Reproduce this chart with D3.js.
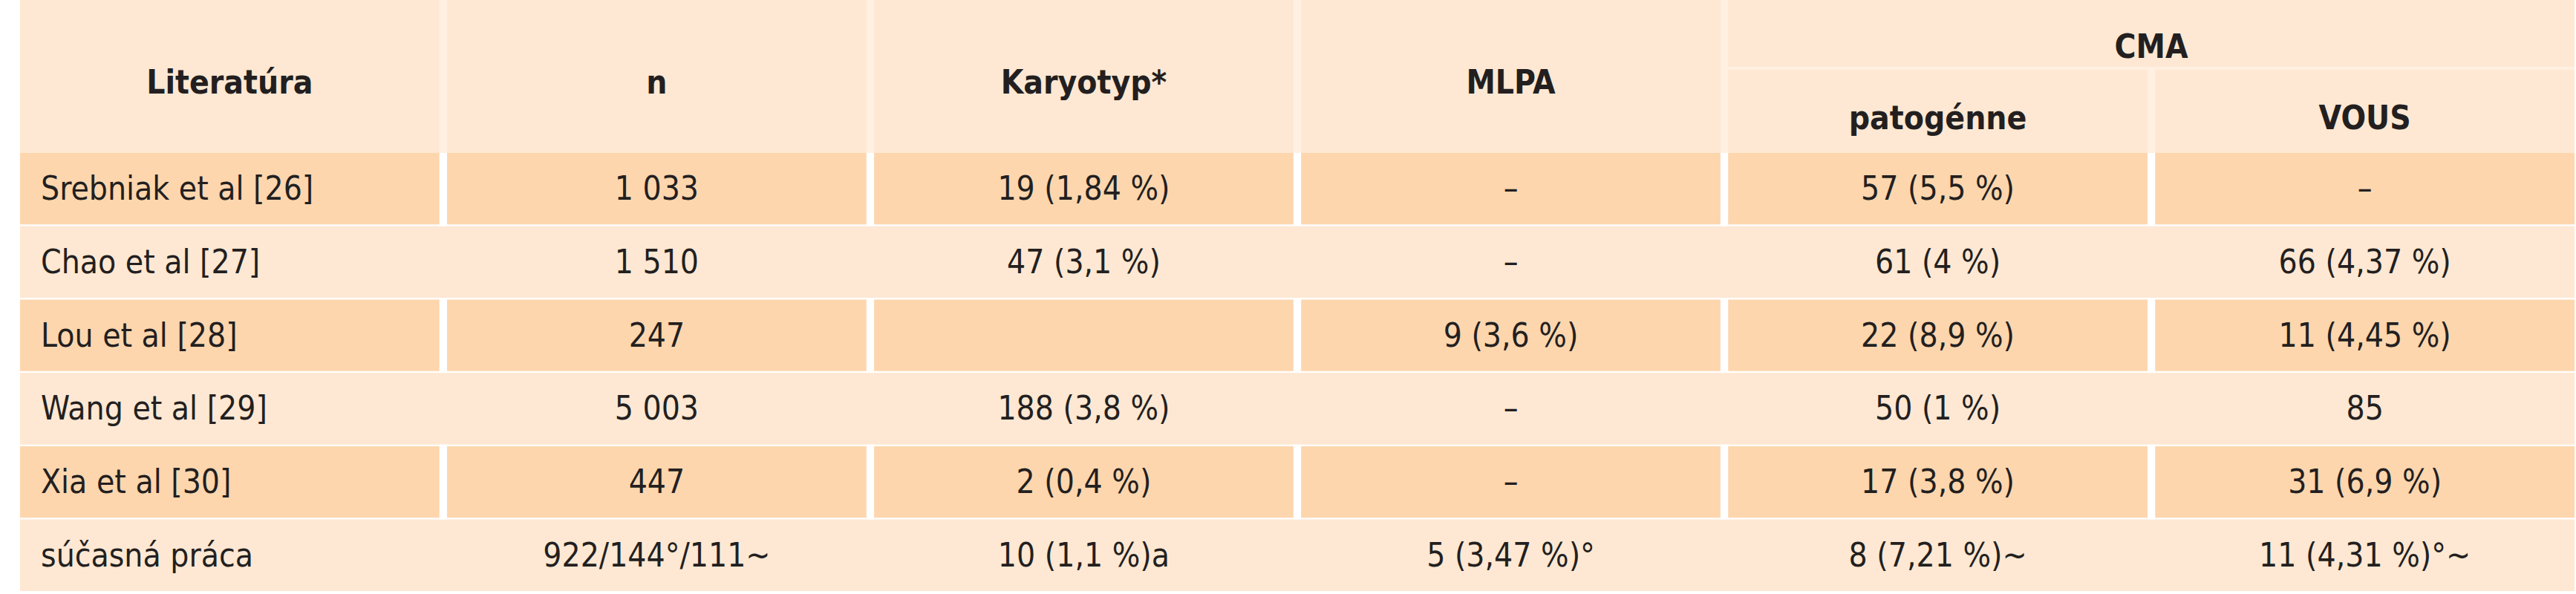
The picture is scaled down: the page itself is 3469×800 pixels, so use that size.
<!DOCTYPE html>
<html>
<head>
<meta charset="utf-8">
<script src="https://cdn.jsdelivr.net/npm/d3@7"></script>
<style>
  body { margin: 0; background: #fff; }
  text { font-family: "Liberation Sans Narrow", "DejaVu Sans Condensed", sans-serif; fill: #231f20; }
</style>
</head>
<body>
<svg id="chart"></svg>
<script>
// --- table data ---
const columns = ["Literatúra", "n", "Karyotyp*", "MLPA", "patogénne", "VOUS"];
const literature = ["Srebniak et al [26]", "Chao et al [27]", "Lou et al [28]", "Wang et al [29]", "Xia et al [30]", "súčasná práca"];
const nValues = ["1 033", "1 510", "247", "5 003", "447", "922/144°/111~"];
const karyotyp = ["19 (1,84 %)", "47 (3,1 %)", "", "188 (3,8 %)", "2 (0,4 %)", "10 (1,1 %)a"];
const mlpa = ["–", "–", "9 (3,6 %)", "–", "–", "5 (3,47 %)°"];
const patogenne = ["57 (5,5 %)", "61 (4 %)", "22 (8,9 %)", "50 (1 %)", "17 (3,8 %)", "8 (7,21 %)~"];
const vous = ["–", "66 (4,37 %)", "11 (4,45 %)", "85", "31 (6,9 %)", "11 (4,31 %)°~"];

const W = 3469, H = 800;
const headTop = 0, headBottom = 206;
const dark = "#fdd6ae", light = "#fee8d3", gapLight = "#fff0e2";

const svg = d3.select("#chart").attr("width", W).attr("height", H);

const x = d3.scaleBand().domain(d3.range(columns.length)).range([27, 3467]).paddingInner(0.018);
const y = d3.scaleBand().domain(d3.range(literature.length)).range([headBottom, 796]).paddingInner(0.025);

const rows = literature.map((d, i) => [d, nValues[i], karyotyp[i], mlpa[i], patogenne[i], vous[i]]);

// header background
svg.append("rect").attr("x", 27).attr("y", headTop).attr("width", 3440).attr("height", headBottom - headTop).attr("fill", light);
// faint header separators
[1, 2, 3, 4, 5].forEach(c => {
  svg.append("rect")
    .attr("x", x(c) - (x.step() - x.bandwidth())).attr("y", c === 5 ? 92 : 0)
    .attr("width", x.step() - x.bandwidth()).attr("height", c === 5 ? headBottom - 92 : headBottom)
    .attr("fill", gapLight);
});
svg.append("rect").attr("x", x(4)).attr("y", 90).attr("width", x(5) + x.bandwidth() - x(4)).attr("height", 4).attr("fill", gapLight);

// header text
const head = svg.append("g").attr("font-weight", "bold").attr("font-size", 44).attr("text-anchor", "middle");
[0, 1, 2, 3].forEach(c => {
  head.append("text").attr("x", x(c) + x.bandwidth() / 2).attr("y", 126).text(columns[c]);
});
head.append("text").attr("x", (x(4) + x(5) + x.bandwidth()) / 2).attr("y", 78).text("CMA");
[4, 5].forEach(c => {
  head.append("text").attr("x", x(c) + x.bandwidth() / 2).attr("y", 174).text(columns[c]);
});

// body rows
const rowG = svg.selectAll("g.row").data(rows).join("g").attr("class", "row")
  .attr("transform", (d, i) => `translate(0,${y(i)})`);

rowG.selectAll("rect").data((d, i) => d.map(v => ({ v, i }))).join("rect")
  .attr("x", (d, c) => x(c)).attr("y", 0)
  .attr("width", x.bandwidth()).attr("height", y.bandwidth())
  .attr("fill", d => d.i % 2 === 0 ? dark : light);

// light rows: fill gaps so cells merge visually
rowG.filter((d, i) => i % 2 === 1).append("rect")
  .attr("x", 27).attr("y", 0).attr("width", 3440).attr("height", y.bandwidth())
  .attr("fill", light).lower();
rowG.filter((d, i) => i % 2 === 1).selectAll("rect.cell").remove();

rowG.selectAll("text").data(d => d).join("text")
  .attr("font-size", 44)
  .attr("x", (d, c) => c === 0 ? x(0) + 28 : x(c) + x.bandwidth() / 2)
  .attr("text-anchor", (d, c) => c === 0 ? "start" : "middle")
  .attr("y", y.bandwidth() / 2 + 15)
  .text(d => d);
</script>
</body>
</html>
